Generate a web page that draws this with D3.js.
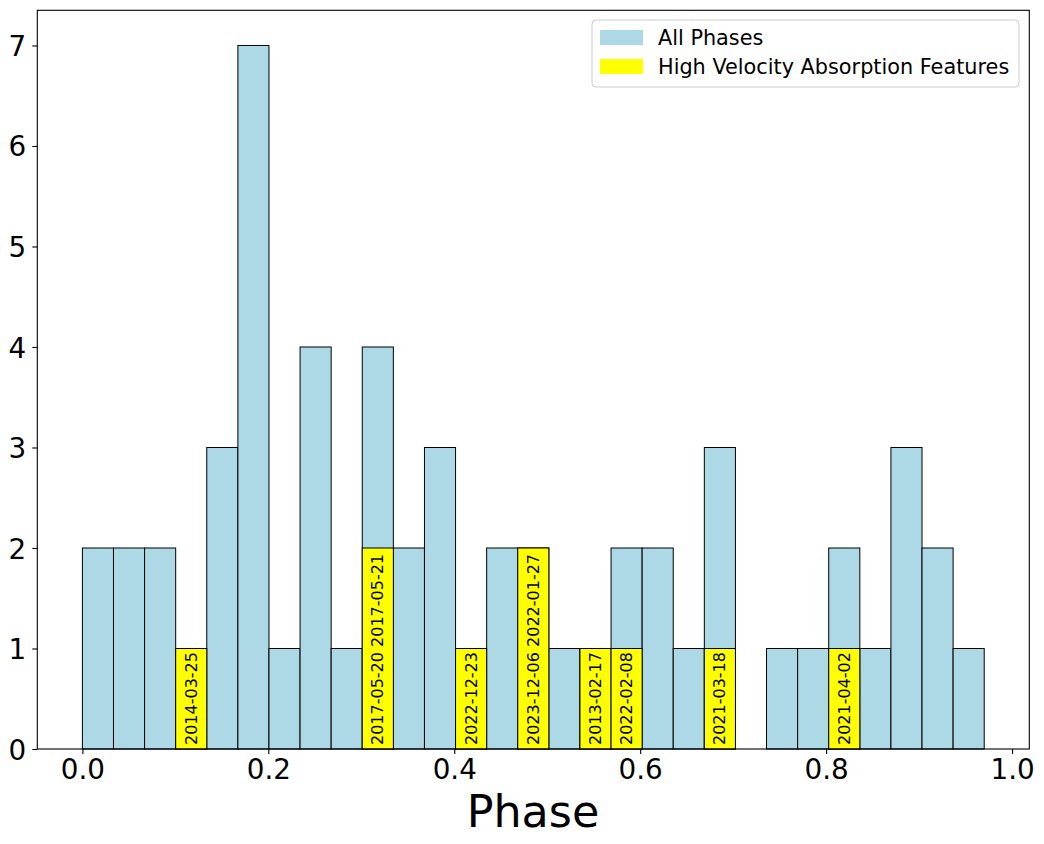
<!DOCTYPE html>
<html><head><meta charset="utf-8">
<script src="https://cdn.jsdelivr.net/npm/d3@7"></script>
<style>body{margin:0;background:#fff}svg{display:block;font-family:"DejaVu Sans",sans-serif}</style>
</head><body><svg id="c" width="1044" height="844"></svg>
<script>
const binWidth = 0.03345;
const allCounts = [2,2,2,1,3,7,1,4,1,4,2,3,1,2,2,1,1,2,2,1,3,0,1,1,2,1,3,2,1];
const hvaBins = [3,9,12,14,16,17,20,24];
const hvaCounts = [1,2,1,2,1,1,1,1];
const hvaLabels = ["2014-03-25","2017-05-20 2017-05-21","2022-12-23","2023-12-06 2022-01-27","2013-02-17","2022-02-08","2021-03-18","2021-04-02"];
const xTicks = [0,0.2,0.4,0.6,0.8,1.0];
const yTicks = [0,1,2,3,4,5,6,7];
const legendLabels = ["All Phases","High Velocity Absorption Features"];
const colors = {all:"#add8e6", hva:"#ffff00"};

const W=1044,H=844, m={l:37,t:10,r:15,b:95};
const svg=d3.select("#c");
const xMax = allCounts.length*binWidth, pad = xMax*0.05;
const x=d3.scaleLinear().domain([-pad, xMax+pad]).range([m.l+0.3, W-m.r+0.3]);
const yMaxV = d3.max(allCounts)*1.05;
const y=d3.scaleLinear().domain([0,yMaxV]).range([H-m.b, m.t+0.3]);

const g=svg.append("g");
g.selectAll("rect.all").data(allCounts.map((c,i)=>({c,i}))).join("rect")
 .attr("x",d=>x(d.i*binWidth)).attr("width",d=>x((d.i+1)*binWidth)-x(d.i*binWidth))
 .attr("y",d=>y(d.c)).attr("height",d=>y(0)-y(d.c))
 .attr("fill",colors.all).attr("stroke","#000").attr("stroke-width",1);

const hva = hvaBins.map((b,k)=>({b,c:hvaCounts[k],t:hvaLabels[k]}));
g.selectAll("rect.hva").data(hva).join("rect")
 .attr("x",d=>x(d.b*binWidth)).attr("width",d=>x((d.b+1)*binWidth)-x(d.b*binWidth))
 .attr("y",d=>y(d.c)).attr("height",d=>y(0)-y(d.c))
 .attr("fill",colors.hva).attr("stroke","#000").attr("stroke-width",1);

g.selectAll("text.lab").data(hva).join("text")
 .attr("transform",d=>`translate(${x((d.b+0.5)*binWidth)},${y(0)-4}) rotate(-90)`)
 .attr("dominant-baseline","central").attr("text-anchor","start")
 .attr("font-size",16).attr("fill","#000").text(d=>d.t);

// frame
svg.append("rect").attr("x",m.l+0.3).attr("y",m.t+0.3).attr("width",W-m.l-m.r).attr("height",H-m.t-m.b-0.3)
 .attr("fill","none").attr("stroke","#000").attr("stroke-width",1.1);

const xa=svg.append("g").attr("transform",`translate(0,${H-m.b})`)
 .call(d3.axisBottom(x).tickValues(xTicks).tickFormat(d3.format(".1f")).tickSize(5).tickPadding(5));
const ya=svg.append("g").attr("transform",`translate(${m.l+0.3},0)`)
 .call(d3.axisLeft(y).tickValues(yTicks).tickFormat(d3.format("d")).tickSize(5).tickPadding(6));
[xa,ya].forEach(a=>{a.select(".domain").remove();a.selectAll("text").attr("font-size",27.8).attr("font-family","DejaVu Sans").attr("fill","#000");a.selectAll("line").attr("stroke","#000").attr("stroke-width",1.1);});
ya.selectAll("text").attr("dy","0.36em");

svg.append("text").attr("x",(m.l+W-m.r)/2).attr("y",827).attr("text-anchor","middle")
 .attr("font-size",44.4).attr("fill","#000").text("Phase");

// legend
const lg=svg.append("g");
lg.append("rect").attr("x",592).attr("y",20).attr("width",427).attr("height",67).attr("rx",4)
 .attr("fill","#fff").attr("fill-opacity",0.8).attr("stroke","#ccc").attr("stroke-width",1);
legendLabels.forEach((t,i)=>{
  lg.append("rect").attr("x",600).attr("y",30+i*29).attr("width",43).attr("height",15).attr("fill",i?colors.hva:colors.all);
  lg.append("text").attr("x",658).attr("y",38+i*29).attr("dominant-baseline","central").attr("font-size",20.8).attr("fill","#000").text(t);
});
</script></body></html>
